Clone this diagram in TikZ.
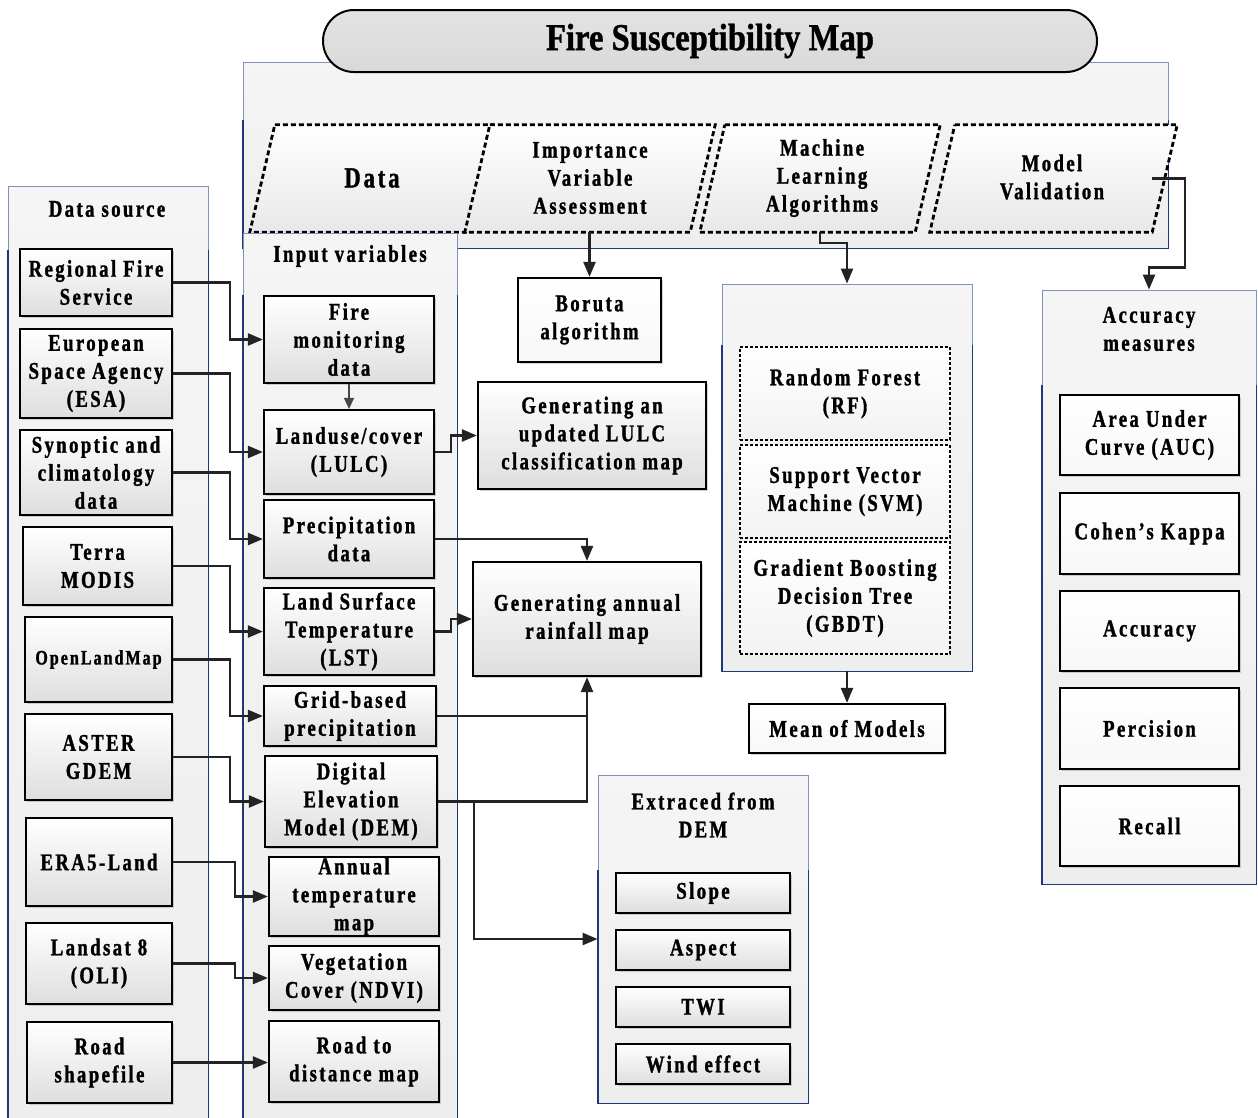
\documentclass[tikz,border=0pt]{standalone}
\usepackage{fontspec}
\setmainfont{Liberation Serif}[LetterSpace=10,FakeStretch=0.78,BoldFeatures={FakeBold=1.3}]
\newfontfamily\titlefont{Liberation Serif}[FakeStretch=0.86,BoldFeatures={FakeBold=1}]
\usetikzlibrary{arrows.meta,shadows,calc}
\definecolor{navy}{RGB}{31,56,120}
\definecolor{navylight}{RGB}{125,145,185}
\definecolor{panelfill}{RGB}{238,238,238}
\definecolor{boxbot}{RGB}{222,222,222}
\definecolor{linec}{RGB}{35,35,35}
\newcommand\fs{\fontsize{24}{28}\selectfont\bfseries}
\tikzset{
 every node/.style={font=\fs, align=center, inner sep=0pt, text=black},
 shad/.style={drop shadow={shadow xshift=2pt,shadow yshift=-2pt,opacity=.35}},
 box/.style={draw=black, line width=2.2pt, top color=white, bottom color=boxbot, shad},
 wbox/.style={draw=black, line width=2.2pt, top color=white, bottom color=gray!6, shad},
 dbox/.style={draw=black, line width=2pt, dash pattern=on 3pt off 2pt, top color=white, bottom color=gray!10},
 cont/.style={draw=navylight, line width=0.8pt, top color=white!96!black, bottom color=panelfill},
 navyside/.style={draw=navy, line width=1.8pt},
 conn/.style={draw=linec, line width=2.3pt, -{Triangle[length=15pt,width=12pt]}},
 thinconn/.style={draw=gray!55!black, line width=1.5pt, -{Triangle[length=11pt,width=10pt]}},
 plain/.style={draw=linec, line width=2.3pt},
 parbox/.style={minimum height=107pt},
 par/.style={draw=black, line width=2.8pt, dash pattern=on 5pt off 3pt, top color=white, bottom color=gray!18},
}
\begin{document}
\begin{tikzpicture}[x=1pt,y=-1pt]
\useasboundingbox[fill=white] (0,0) rectangle (1258,1117);

% ---------- main top panel ----------
\node[cont, minimum width=925pt, minimum height=186pt] (mainp) at (705.5,155) {};
\draw[navyside] (mainp.north west |- 0,120) -- (mainp.south west) -- (mainp.south east) -- (mainp.north east |- 0,120);

% title
\node[draw=black, line width=2pt, rounded corners=31pt, minimum width=774pt, minimum height=62pt,
      top color=gray!22, middle color=white, bottom color=gray!30,
      font={\titlefont\fontsize{38}{42}\selectfont\bfseries}] (title) at (710,41) {Fire Susceptibility Map};

% parallelograms
\node[parbox, minimum width=242pt] (pdata) at (371,178.5) {};
\node[parbox, minimum width=250pt] (pimp) at (590,178.5) {};
\node[parbox, minimum width=240pt] (pmla) at (820,178.5) {};
\node[parbox, minimum width=247pt] (pmval) at (1053.5,178.5) {};
\foreach \p in {pdata,pimp,pmla,pmval}{
  \draw[par] ([xshift=25pt]\p.north west) -- (\p.north east) -- ([xshift=-25pt]\p.south east) -- (\p.south west) -- cycle;
}
\node[font=\fontsize{29}{32}\selectfont\bfseries] (tdata) at (372,178) {Data};
\node (timp) at (590,178) {Importance\\Variable\\Assessment};
\node (tmla) at (822,178) {Machine\\Learning\\Algorithms};
\node (tmval) at (1052,177) {Model\\Validation};

% ---------- containers ----------
\node[cont, minimum width=200pt, minimum height=939pt] (dsrc) at (108,655.5) {};
\draw[navyside] (dsrc.north west |- 0,250) -- (dsrc.south west) -- (dsrc.south east) -- (dsrc.north east |- 0,250);
\node (hdsrc) at (107,209) {Data source};

\node[cont, minimum width=214pt, minimum height=892pt] (inp) at (350,679) {};
\draw[navyside] (inp.north west |- 0,295) -- (inp.south west) -- (inp.south east) -- (inp.north east |- 0,295);
\node (hinp) at (350,256) {Input variables};

\node[cont, minimum width=250pt, minimum height=387pt] (mlc) at (847,477.5) {};
\draw[navyside] (mlc.north west |- 0,345) -- (mlc.south west) -- (mlc.south east) -- (mlc.north east |- 0,345);

\node[cont, minimum width=214pt, minimum height=594pt] (acc) at (1149,587) {};
\draw[navyside] (acc.north west |- 0,385) -- (acc.south west) -- (acc.south east) -- (acc.north east |- 0,385);
\node (hacc) at (1149,329) {Accuracy\\measures};

\node[cont, minimum width=210pt, minimum height=328pt] (ext) at (703,939) {};
\draw[navyside] (ext.north west |- 0,870) -- (ext.south west) -- (ext.south east) -- (ext.north east |- 0,870);
\node (hext) at (703,815) {Extraced from\\DEM};

% ---------- data source boxes ----------
\node[box, minimum width=152pt, minimum height=67pt] (rfs) at (96,282.5) {Regional Fire\\Service};
\node[box, minimum width=152pt, minimum height=89pt] (esa) at (96,373.5) {European\\Space Agency\\(ESA)};
\node[box, minimum width=152pt, minimum height=85pt] (syn) at (96,472.5) {Synoptic and\\climatology\\data};
\node[box, minimum width=149pt, minimum height=78pt] (terra) at (97.5,566) {Terra\\MODIS};
\node[box, minimum width=147pt, minimum height=85pt, font=\fontsize{20.5}{24}\selectfont\bfseries] (olm) at (98.5,659.5) {OpenLandMap};
\node[box, minimum width=147pt, minimum height=86pt] (aster) at (98.5,757) {ASTER\\GDEM};
\node[box, minimum width=146pt, minimum height=88pt] (era) at (99,862) {ERA5-Land};
\node[box, minimum width=146pt, minimum height=81pt] (lsat) at (99,963.5) {Landsat 8\\(OLI)};
\node[box, minimum width=145pt, minimum height=81pt] (road) at (99.5,1062.5) {Road\\shapefile};

% ---------- input variable boxes ----------
\node[box, minimum width=170pt, minimum height=87pt] (fire) at (349,339.5) {Fire\\monitoring\\data};
\node[box, minimum width=170pt, minimum height=84pt] (lulc) at (349,452) {Landuse/cover\\(LULC)};
\node[box, minimum width=170pt, minimum height=78pt] (prec) at (349,539) {Precipitation\\data};
\node[box, minimum width=170pt, minimum height=87pt] (lst) at (349,631.5) {Land Surface\\Temperature\\(LST)};
\node[box, minimum width=172pt, minimum height=60pt] (grid) at (350,716) {Grid-based\\precipitation};
\node[box, minimum width=172pt, minimum height=91pt] (dem) at (351,801.5) {Digital\\Elevation\\Model (DEM)};
\node[box, minimum width=170pt, minimum height=79pt] (annual) at (354,896.5) {Annual\\temperature\\map};
\node[box, minimum width=170pt, minimum height=64pt] (veg) at (354,978) {Vegetation\\Cover (NDVI)};
\node[box, minimum width=170pt, minimum height=81pt] (rdist) at (354,1061.5) {Road to\\distance map};

% ---------- middle boxes ----------
\node[wbox, minimum width=143pt, minimum height=84pt] (boruta) at (589.5,320) {Boruta\\algorithm};
\node[box, minimum width=228pt, minimum height=107pt] (glulc) at (592,435.5) {Generating an\\updated LULC\\classification map};
\node[box, minimum width=228pt, minimum height=114pt] (rain) at (587,619) {Generating annual\\rainfall map};

% ML algorithms
\node[dbox, minimum width=210pt, minimum height=93pt] (rf) at (845,393.5) {Random Forest\\(RF)};
\node[dbox, minimum width=210pt, minimum height=93pt] (svm) at (845,491.5) {Support Vector\\Machine (SVM)};
\node[dbox, minimum width=210pt, minimum height=112pt] (gbdt) at (845,598) {Gradient Boosting\\Decision Tree\\(GBDT)};
\node[wbox, minimum width=196pt, minimum height=49pt] (mean) at (847,728.5) {Mean of Models};

% extracted from DEM
\node[box, minimum width=174pt, minimum height=40pt] (slope) at (703,893) {Slope};
\node[box, minimum width=174pt, minimum height=40pt] (aspect) at (703,950) {Aspect};
\node[box, minimum width=174pt, minimum height=40pt] (twi) at (703,1007) {TWI};
\node[box, minimum width=174pt, minimum height=40pt] (wind) at (703,1064) {Wind effect};

% accuracy measures
\node[wbox, minimum width=179pt, minimum height=80pt] (auc) at (1149.5,435) {Area Under\\Curve (AUC)};
\node[wbox, minimum width=179pt, minimum height=81pt] (kappa) at (1149.5,533.5) {Cohen's Kappa};
\node[wbox, minimum width=179pt, minimum height=80pt] (accu) at (1149.5,631) {Accuracy};
\node[wbox, minimum width=179pt, minimum height=81pt] (percision) at (1149.5,728.5) {Percision};
\node[wbox, minimum width=179pt, minimum height=80pt] (recall) at (1149.5,826) {Recall};

% ---------- connectors ----------
\draw[conn] (rfs.east) -- ++(57,0) |- (fire.west);
\draw[conn] (esa.east) -- ++(57,0) |- (lulc.west);
\draw[conn] (syn.east) -- ++(57,0) |- (prec.west);
\draw[conn] (terra.east) -- ++(57,0) |- (lst.west);
\draw[conn] (olm.east) -- ++(57,0) |- (grid.west);
\draw[conn] (aster.east) -- ++(57,0) |- (dem.west);
\draw[conn] (era.east) -- ++(62,0) |- (annual.west);
\draw[conn] (lsat.east) -- ++(62,0) |- (veg.west);
\draw[conn] (road.east) -- (road.east -| rdist.west);

\draw[thinconn] (fire.south) -- (lulc.north);
\draw[conn] (lulc.east) -- ++(16,0) |- (glulc.west);
\draw[conn] (prec.east) -| (rain.north);
\draw[conn] (lst.east) -- ++(16,0) |- (rain.west);
\draw[plain] (grid.east) -- (grid.east -| rain.south);
\draw[conn] (dem.east) -| (rain.south);
\draw[conn] ($(dem.east)+(36,0)$) |- (ext.west);

\draw[conn] (boruta.north |- pimp.south) -- (boruta.north);
\draw[conn] (pmla.south) -- ++(0,11) -| (mlc.north);
\draw[conn] (mlc.south) -- (mean.north);
\coordinate (mvout) at ($(pmval.east)+(-25,0)$);
\draw[conn] (mvout) -| ($(acc.north)+(36,-22)$) -| (acc.north);
\end{tikzpicture}
\end{document}
